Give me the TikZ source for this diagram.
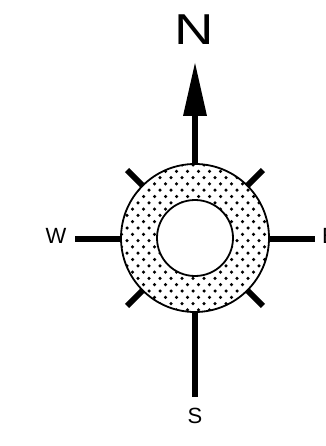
\documentclass[tikz,border=0pt]{standalone}
\usepackage{fontspec}
\setmainfont{Liberation Sans}
\tikzset{
  spoke/.style={line width=6pt},
  ring/.style={line width=1.8pt},
  lbl/.style={inner sep=0pt, font=\fontsize{22}{22}\selectfont},
}
\begin{document}
\begin{tikzpicture}[x=1pt,y=-1pt]
\useasboundingbox (0,0) rectangle (325,446);
\fill[white] (0,0) rectangle (325,446);
\coordinate (c) at (195,238);
% dotted annulus
\begin{scope}[even odd rule]
  \clip (c) circle (74pt) (c) circle (38pt);
  \foreach \r [evaluate=\r as \off using {mod(\r,2)*5.5}] in {0,...,24}{
    \foreach \k in {0,...,15}{
      \fill (116+\k*11+\off, 165+\r*6.3) circle (1.75pt);
    }
  }
\end{scope}
\draw[ring] (c) circle (74pt);
\draw[ring] (c) circle (38pt);
% diagonal ticks
\foreach \a in {45,135,225,315}{
  \draw[spoke] ([shift={(\a:74pt)}]c) -- ([shift={(\a:96pt)}]c);
}
% spokes
\coordinate (nb) at (195,115);
\coordinate (nt) at (195,63);
\draw[spoke] (195,164) -- (nb);
\fill (nt) -- (183,116) -- (207,116) -- cycle;
\draw[spoke] (121,239) -- (75,239);
\draw[spoke] (269,239) -- (315,239);
\draw[spoke] (195,312) -- (195,397);
% labels
\node[inner sep=0pt] (N) at (194,30) {\scalebox{1.3}[1.03]{\fontsize{42}{42}\selectfont N}};
\node[lbl] (W) at (56,236) {W};
\node[lbl, anchor=west] (E) at (322,236) {E};
\node[lbl] (S) at (195,416) {S};
\end{tikzpicture}
\end{document}
